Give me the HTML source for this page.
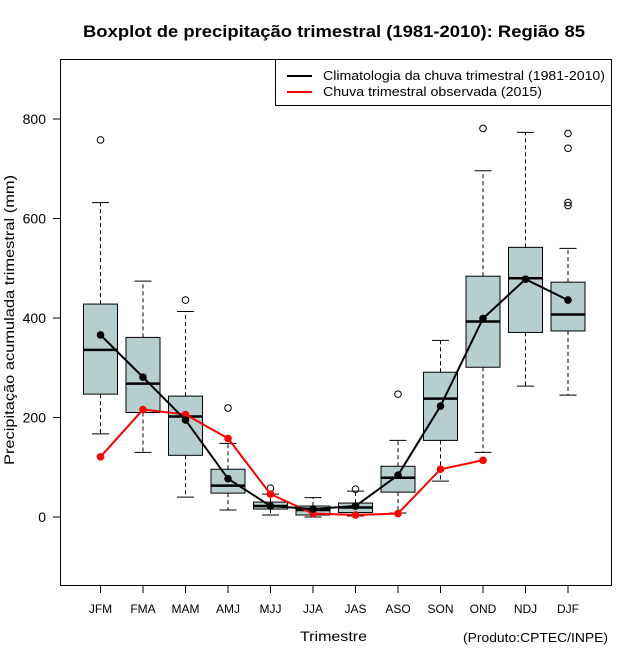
<!DOCTYPE html>
<html><head><meta charset="utf-8"><style>
html,body{margin:0;padding:0;background:#fff;}
svg{display:block;font-family:"Liberation Sans",sans-serif;}
</style></head><body>
<svg id="chart" width="640" height="660" viewBox="0 0 640 660">
<text x="83" y="37" textLength="502" lengthAdjust="spacingAndGlyphs" font-size="17" font-weight="bold">Boxplot de precipitação trimestral (1981-2010): Região 85</text>
<rect x="60.5" y="59.5" width="551" height="526" fill="none" stroke="#000"/>
<g id="yaxis"></g>
<g id="xaxis"></g>
<g id="boxes"></g>
<g id="lines"></g>
<text transform="translate(14,320) rotate(-90)" text-anchor="middle" textLength="290" lengthAdjust="spacingAndGlyphs" font-size="14">Precipitação acumulada trimestral (mm)</text>
<text x="300" y="641" textLength="67" lengthAdjust="spacingAndGlyphs" font-size="14">Trimestre</text>
<text x="463" y="642" textLength="145" lengthAdjust="spacingAndGlyphs" font-size="13">(Produto:CPTEC/INPE)</text>
<g>
<rect x="275.5" y="59.5" width="336" height="46" fill="#fff" stroke="#000"/>
<line x1="287" y1="76" x2="312" y2="76" stroke="#000" stroke-width="2"/>
<text x="323" y="80" textLength="282" lengthAdjust="spacingAndGlyphs" font-size="13">Climatologia da chuva trimestral (1981-2010)</text>
<line x1="287" y1="92" x2="312" y2="92" stroke="#f00" stroke-width="2"/>
<text x="323" y="96" textLength="219" lengthAdjust="spacingAndGlyphs" font-size="13">Chuva trimestral observada (2015)</text>
</g>
</svg>
<script>
const categories=["JFM","FMA","MAM","AMJ","MJJ","JJA","JAS","ASO","SON","OND","NDJ","DJF"];
const whiskerLow=[167,130,40,14,4,0,2,8,72,130,263,245];
const q1=[247,210,124,48,16,4,9,50,154,301,371,374];
const medians=[336,268,202,63,22,14,19,79,238,393,480,407];
const q3=[428,361,243,96,30,22,28,102,291,484,542,472];
const whiskerHigh=[632,474,413,148,46,39,52,154,355,696,773,540];
const outliers=[[758],[],[436],[219],[58],[],[56],[247],[],[781],[],[771,741,632,626]];
const climatology=[366,281,195,77,22,16,22,84,223,399,478,436];
const observed=[121,216,206,158,46,7,4,7,96,114];
const yTicks=[0,200,400,600,800];

const NS="http://www.w3.org/2000/svg";
function X(i){return 100.5+i*42.5;}
function Y(v){return 517-v*0.4975;}
function mk(parent,tag,attrs){const e=document.createElementNS(NS,tag);for(const k in attrs)e.setAttribute(k,attrs[k]);document.getElementById(parent).appendChild(e);return e;}

yTicks.forEach(t=>{
  const l=mk("yaxis","line",{x1:53,x2:60,y1:Y(t),y2:Y(t),stroke:"#000"});
  
  
  const tx=mk("yaxis","text",{x:46,y:Y(t)+5,"text-anchor":"end","font-size":"14"});
  tx.textContent=t;
  
  
});
categories.forEach((c,i)=>{
  const l=mk("xaxis","line",{x1:X(i),x2:X(i),y1:586,y2:593,stroke:"#000"});
  
  
  const tx=mk("xaxis","text",{x:X(i),y:613,"text-anchor":"middle","font-size":"12"});
  tx.textContent=c;
  
  
});
categories.forEach((c,i)=>{
  const x=X(i),hw=17,cw=8.5;
  const w1=mk("boxes","line",{x1:x,x2:x,y1:Y(q3[i]),y2:Y(whiskerHigh[i]),stroke:"#000","stroke-dasharray":"4,3"});
  
  
  const w2=mk("boxes","line",{x1:x,x2:x,y1:Y(q1[i]),y2:Y(whiskerLow[i]),stroke:"#000","stroke-dasharray":"4,3"});
  
  
  const c1=mk("boxes","line",{x1:x-cw,x2:x+cw,y1:Y(whiskerHigh[i]),y2:Y(whiskerHigh[i]),stroke:"#000"});
  
  
  const c2=mk("boxes","line",{x1:x-cw,x2:x+cw,y1:Y(whiskerLow[i]),y2:Y(whiskerLow[i]),stroke:"#000"});
  
  
  const b=mk("boxes","rect",{x:x-hw,y:Y(q3[i]),width:hw*2,height:Y(q1[i])-Y(q3[i]),fill:"#b5cfcf",stroke:"#000"});
  
  
  const m=mk("boxes","line",{x1:x-hw,x2:x+hw,y1:Y(medians[i]),y2:Y(medians[i]),stroke:"#000","stroke-width":2.5});
  
  
  outliers[i].forEach(o=>{
    const p=mk("boxes","circle",{cx:x,cy:Y(o),r:3.3,fill:"none",stroke:"#000"});
    
    
  });
});
function series(vals,color,name){
  const pl=mk("lines","polyline",{points:vals.map((v,i)=>X(i)+","+Y(v)).join(" "),fill:"none",stroke:color,"stroke-width":2});
  
  
  vals.forEach((v,i)=>{
    const c=mk("lines","circle",{cx:X(i),cy:Y(v),r:3.8,fill:color});
    
    
  });
}
series(observed,"#f00","observed");
series(climatology,"#000","climatology");
</script>
</body></html>
